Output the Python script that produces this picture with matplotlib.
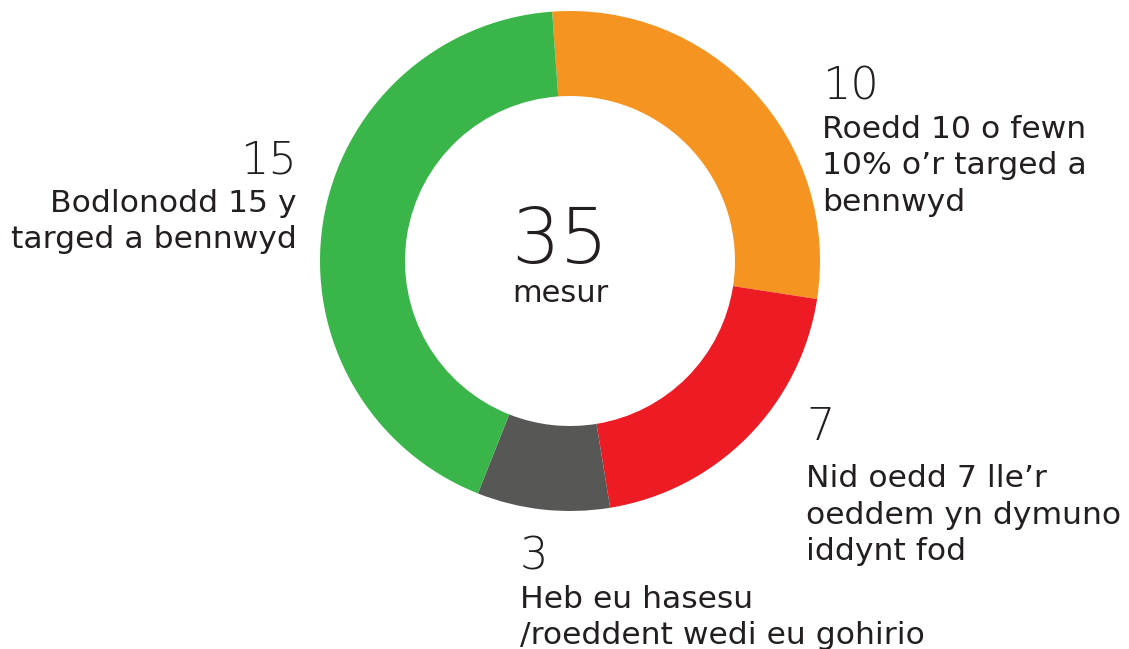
import matplotlib.pyplot as plt

# data: clockwise from the top
counts = [10, 7, 3, 15]
colours = ['#F59420', '#ED1C24', '#575756', '#3AB54A']
total = sum(counts)
centre_word = 'mesur'
labels = [
    ['Roedd 10 o fewn', '10% o\u2019r targed a', 'bennwyd'],
    ['Nid oedd 7 lle\u2019r', 'oeddem yn dymuno', 'iddynt fod'],
    ['Heb eu hasesu', '/roeddent wedi eu gohirio'],
    ['Bodlonodd 15 y', 'targed a bennwyd'],
]

W, H = 1129, 649
fig = plt.figure(figsize=(W / 100, H / 100), dpi=100)
FONT = 'DejaVu Sans'
INK = '#231F20'

# donut: centre at (570, 261) px, outer radius 250 px
ax = fig.add_axes([320 / W, (H - 511) / H, 500 / W, 500 / H])
ax.pie(counts, colors=colours, startangle=94.1, counterclock=False,
       radius=1, wedgeprops=dict(width=0.34, linewidth=0))
ax.set_xlim(-1, 1)
ax.set_ylim(-1, 1)
ax.set_aspect('equal')
ax.axis('off')


def put(x, y, s, size, ha='left', weight='normal'):
    fig.text(x / W, 1 - y / H, s, fontsize=size, ha=ha, va='baseline',
             family=FONT, weight=weight, color=INK)


# centre
put(560, 263, str(total), 55, ha='center', weight='light')
put(560, 302, centre_word, 22, ha='center')

# label blocks: (x, baseline of number, baseline of first line, align)
places = [(822, 100, 138, 'left'),
          (806, 440, 487, 'left'),
          (520, 570, 608, 'left'),
          (297, 173, 212, 'right')]
step = 36.5
for n, lines, (x, yn, y0, ha) in zip(counts, labels, places):
    put(x, yn, str(n), 32, ha=ha, weight='light')
    for i, line in enumerate(lines):
        put(x, y0 + i * step, line, 22.6, ha=ha)

fig.savefig('out.png', dpi=100, facecolor='white')
